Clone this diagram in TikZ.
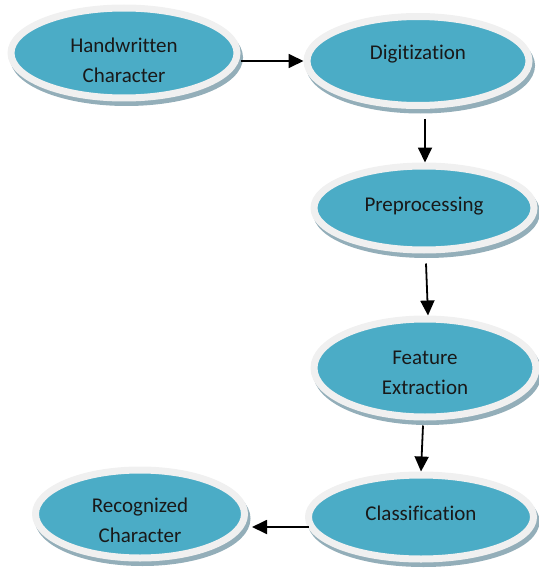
\documentclass[tikz,border=0pt]{standalone}
\usepackage{fontspec}
\setmainfont[Ligatures=NoCommon]{Carlito}
\usetikzlibrary{shapes.geometric,arrows.meta,shadows}
\definecolor{tealfill}{HTML}{4BACC6}
\definecolor{ringc}{HTML}{F0F0F0}
\definecolor{shadc}{HTML}{93AEB9}
\tikzset{
  oval/.style={ellipse, fill=tealfill, draw=ringc, line width=7pt,
    inner sep=0pt,
    general shadow={fill=shadc, draw=shadc, line width=7pt, shadow xshift=2.5pt, shadow yshift=-4.5pt}},
  lbl/.style={align=center, font=\fontsize{21}{30}\selectfont, text=black!90, inner sep=0pt},
  flow/.style={-{Triangle[width=14pt,length=15pt]}, line width=1.8pt, black}
}
\begin{document}
\begin{tikzpicture}[x=1pt,y=1pt]
\useasboundingbox (0,0) rectangle (538,-575);
\node[oval, minimum width=226pt, minimum height=90pt] (hw) at (124,-53) {};
\node[oval, minimum width=222pt, minimum height=89pt] (dg) at (418,-61) {};
\node[oval, minimum width=220pt, minimum height=84pt] (pp) at (424,-208) {};
\node[oval, minimum width=222pt, minimum height=98pt] (fe) at (425,-368) {};
\node[oval, minimum width=225pt, minimum height=84pt] (cl) at (421,-517) {};
\node[oval, minimum width=209pt, minimum height=88pt] (rc) at (140,-514) {};
\node[lbl] (hwt) at (124,-60) {Handwritten\\Character};
\node[lbl] (dgt) at (418,-54) {Digitization};
\node[lbl] (ppt) at (424,-206) {Preprocessing};
\node[lbl] (fet) at (425,-373) {Feature\\Extraction};
\node[lbl] (clt) at (421,-513) {Classification};
\node[lbl] (rct) at (140,-520) {Recognized\\Character};
\draw[flow] (hw.east) ++(0,-8) coordinate (a1) -- (dg.west |- a1);
\draw[flow] ([xshift=7pt,yshift=-10pt]dg.south) -- ([xshift=1pt]pp.north);
\draw[flow] ([xshift=2pt,yshift=-10pt]pp.south) -- ([xshift=3pt]fe.north);
\draw[flow] ([xshift=-2pt,yshift=-5pt]fe.south) -- ([xshift=0pt]cl.north);
\draw[flow] ([xshift=4pt,yshift=-10pt]cl.west) -- ([xshift=4pt,yshift=-10pt]cl.west -| rc.east);
\end{tikzpicture}
\end{document}
